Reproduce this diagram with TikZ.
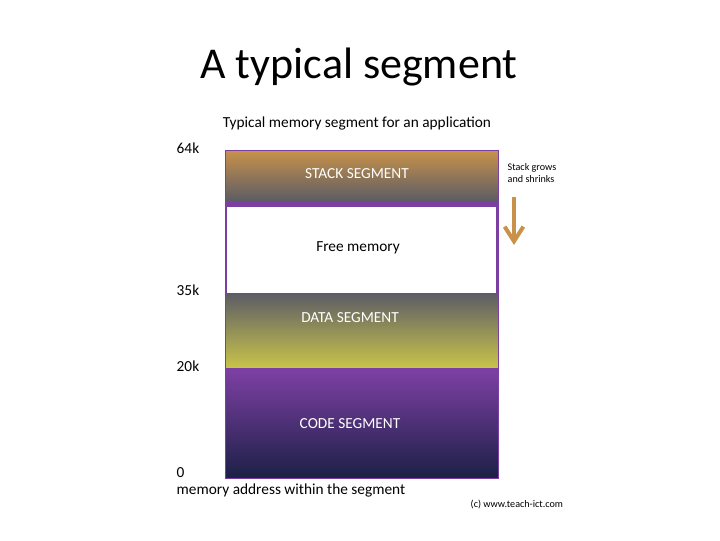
\documentclass[tikz,border=0pt]{standalone}
\usepackage{fontspec}
\setmainfont{Carlito}
\usetikzlibrary{arrows.meta}
\definecolor{segpurple}{HTML}{7A3FA0}
\definecolor{stacktop}{HTML}{C8924A}
\definecolor{stackbot}{HTML}{585A66}
\definecolor{datatop}{HTML}{5C5C66}
\definecolor{databot}{HTML}{C9C44A}
\definecolor{codetop}{HTML}{7B3FA2}
\definecolor{codebot}{HTML}{1C2046}
\definecolor{arrowtan}{HTML}{C8924A}
\tikzset{
  segtext/.style={text=white, font=\fontsize{11.5}{13}\selectfont},
  addr/.style={anchor=west, font=\fontsize{11.5}{13}\selectfont},
  small/.style={anchor=west, font=\fontsize{7.6}{9}\selectfont, align=left},
}
\begin{document}
\begin{tikzpicture}[x=0.75pt,y=-0.75pt]
\useasboundingbox (0,0) rectangle (720,540);
\node (title) at (359,67) {\fontsize{33}{38}\selectfont A typical segment};
\node (subtitle) at (357,123) {\fontsize{11.5}{13}\selectfont Typical memory segment for an application};
% segments
\shade[top color=stacktop, bottom color=stackbot] (225,150) rectangle (498,203);
\fill[segpurple] (225,202) rectangle (498,207);
\fill[segpurple] (225,207) rectangle (498,293);
\fill[white] (227,207) rectangle (496,293);
\shade[top color=datatop, bottom color=databot] (225,293) rectangle (498,368);
\fill[segpurple] (225,368) rectangle (498,372);
\shade[top color=codetop, bottom color=codebot] (225,372) rectangle (498,478);
\draw[segpurple, line width=0.6pt] (225,150) rectangle (498,478);
% labels
\node[segtext] (stack) at (357,174) {STACK SEGMENT};
\node[font=\fontsize{11.5}{13}\selectfont] (free) at (358,248) {Free memory};
\node[segtext] (data) at (350,318) {DATA SEGMENT};
\node[segtext] (code) at (350,424) {CODE SEGMENT};
\node[addr] (k64) at (172,148) {64k};
\node[addr] (k35) at (172,290) {35k};
\node[addr] (k20) at (172,366) {20k};
\node[addr] (k0) at (172,473) {0};
\node[addr] (axis) at (172,490) {memory address within the segment};
\node[anchor=west, font=\fontsize{7.6}{9}\selectfont] (copy) at (466,504) {(c) www.teach-ict.com};
\node[small] (grows) at (503,173) {Stack grows\\and shrinks};
% arrow
\coordinate (astart) at (514,197);
\coordinate (aend) at (514,245);
\draw[arrowtan, line width=3.2pt, -{Straight Barb[length=11pt,width=14pt,line width=3pt]}] (astart) -- (aend);
\end{tikzpicture}
\end{document}
